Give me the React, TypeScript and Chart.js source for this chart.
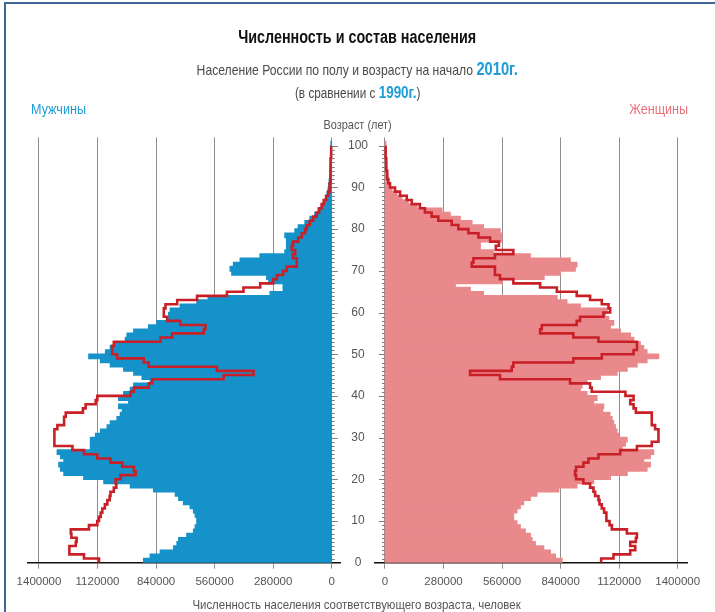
import React, { useEffect, useRef } from "react";
import { Chart, registerables } from "chart.js";

Chart.register(...registerables);

// ---------- data (thousands of people, index = age in years) ----------
const AGES: number[] = Array.from({ length: 101 }, (_, i) => i);
const AGE_LABELS = [0, 10, 20, 30, 40, 50, 60, 70, 80, 90, 100];
const X_TICKS = [0, 280000, 560000, 840000, 1120000, 1400000];

const MALE_2010 = [
  899, 867, 819, 755, 739, 731, 692, 660, 652, 644,
  644, 652, 660, 676, 708, 731, 747, 851, 962, 1089,
  1185, 1280, 1296, 1304, 1280, 1296, 1312, 1153, 1153, 1153,
  1129, 1105, 1073, 1058, 1026, 1010, 1000, 1018, 970, 1018,
  994, 962, 946, 867, 906, 946, 994, 1058, 1105, 1161,
  1081, 1058, 1042, 986, 978, 946, 875, 835, 779, 779,
  771, 724, 644, 590, 294, 231, 231, 300, 310, 477,
  485, 469, 437, 342, 223, 215, 215, 215, 223, 175,
  159, 127, 103, 80, 64, 48, 37, 27, 21, 16,
  13, 11, 9, 7, 6, 5, 4, 3, 3, 2, 2,
];

const MALE_1990 = [
  1113, 1185, 1252, 1256, 1224, 1220, 1245, 1248, 1161, 1121,
  1113, 1105, 1097, 1085, 1073, 1062, 1058, 1042, 1030, 1034,
  1010, 938, 946, 1002, 1058, 1121, 1185, 1240, 1324, 1328,
  1328, 1324, 1312, 1280, 1280, 1272, 1190, 1177, 1129, 1121,
  962, 946, 875, 859, 517, 374, 549, 875, 899, 1026,
  1050, 1050, 1042, 819, 763, 612, 604, 724, 787, 803,
  803, 795, 739, 644, 501, 422, 342, 280, 262, 232,
  215, 167, 167, 185, 175, 191, 185, 160, 143, 127,
  119, 105, 88, 72, 60, 48, 38, 27, 17, 12,
  9, 8, 7, 6, 5, 4, 4, 3, 3, 2, 2,
];

const FEMALE_2010 = [
  846, 814, 790, 758, 718, 702, 694, 670, 646, 630,
  614, 614, 630, 646, 662, 694, 726, 830, 917, 997,
  1077, 1157, 1252, 1268, 1236, 1268, 1284, 1133, 1149, 1157,
  1117, 1109, 1101, 1093, 1085, 1075, 1040, 1045, 997, 1013,
  965, 933, 941, 965, 1029, 1109, 1157, 1205, 1252, 1308,
  1252, 1236, 1220, 1189, 1173, 1125, 1077, 1093, 1069, 1053,
  1061, 933, 869, 822, 470, 407, 335, 560, 760, 838,
  909, 917, 885, 694, 517, 455, 455, 558, 558, 550,
  470, 415, 359, 311, 271, 152, 110, 80, 56, 32,
  20, 16, 13, 11, 9, 7, 6, 5, 4, 3, 3,
];

const FEMALE_1990 = [
  1034, 1093, 1173, 1197, 1173, 1200, 1205, 1157, 1085, 1074,
  1061, 1058, 1048, 1037, 1026, 1021, 1005, 997, 981, 949,
  914, 909, 914, 949, 973, 1021, 1125, 1205, 1276, 1308,
  1308, 1308, 1292, 1276, 1276, 1276, 1200, 1189, 1173, 1189,
  1150, 989, 981, 885, 550, 407, 606, 614, 901, 1037,
  1189, 1205, 1205, 1021, 901, 742, 750, 917, 933, 1045,
  1077, 1069, 1037, 981, 917, 822, 742, 614, 550, 526,
  526, 415, 423, 526, 614, 530, 545, 503, 447, 399,
  351, 319, 255, 223, 191, 167, 128, 104, 72, 48,
  24, 16, 12, 10, 8, 6, 5, 4, 3, 3, 2,
];

// ---------- styling ----------
const BLUE = "#1492c9";
const PINK = "#e9898c";
const RED = "#c91f27";
const BLUE_TXT = "#1d9bd6";
const PINK_TXT = "#e8707a";
const GRAY_TXT = "#555555";
const FONT = '"Liberation Sans", Arial, Helvetica, sans-serif';

const W = 715;
const H = 612;
const PLOT_TOP = 137.4;
const PLOT_BOTTOM = 562.7;

type Side = "left" | "right";

function agePlugin(side: Side) {
  return {
    id: "ageAxis" + side,
    afterDraw(chart: any) {
      const { ctx, scales } = chart;
      const xs = scales.x;
      const ys = scales.y;
      const x0 = xs.getPixelForValue(0);
      ctx.save();
      ctx.strokeStyle = "#7d7d7d";
      ctx.lineWidth = 1;
      for (const a of AGES) {
        const py = Math.round(ys.getPixelForValue(a)) + 0.5;
        const len = a % 10 === 0 ? 6 : 3;
        ctx.beginPath();
        ctx.moveTo(x0, py);
        ctx.lineTo(side === "left" ? x0 + len : x0 - len, py);
        ctx.stroke();
      }
      if (side === "left") {
        ctx.fillStyle = GRAY_TXT;
        ctx.font = "12px " + FONT;
        ctx.textAlign = "center";
        ctx.textBaseline = "middle";
        for (const a of AGE_LABELS) {
          ctx.fillText(String(a), 358, ys.getPixelForValue(a));
        }
      }
      ctx.restore();
    },
  };
}

function buildConfig(side: Side, bars: number[], line: number[], color: string): any {
  const isLeft = side === "left";
  const barData = AGES.map((a) => ({ x: bars[a] * 1000, y: a + 0.5 }));
  const lineData: { x: number; y: number }[] = [];
  AGES.forEach((a) => {
    lineData.push({ x: line[a] * 1000, y: a });
    if (a < 100) lineData.push({ x: line[a] * 1000, y: a + 1 });
  });
  return {
    type: "bar",
    data: {
      datasets: [
        {
          type: "line",
          data: lineData,
          borderColor: RED,
          borderWidth: 2.6,
          pointRadius: 0,
          pointHoverRadius: 0,
          fill: false,
          tension: 0,
          order: 0,
          indexAxis: "y",
        },
        {
          type: "bar",
          data: barData,
          backgroundColor: color,
          borderWidth: 0,
          inflateAmount: 0.8,
          barPercentage: 1,
          categoryPercentage: 1,
          order: 1,
          indexAxis: "y",
        },
      ],
    },
    options: {
      responsive: false,
      animation: false,
      devicePixelRatio: 1,
      indexAxis: "y",
      events: [],
      layout: {
        padding: {
          left: isLeft ? 28 : 375,
          right: isLeft ? 375 : 28,
          top: PLOT_TOP,
          bottom: 0,
        },
      },
      plugins: {
        legend: { display: false },
        tooltip: { enabled: false },
        title: { display: false },
      },
      scales: {
        y: {
          type: "linear",
          min: 0,
          max: 102,
          offset: false,
          display: false,
          grid: { offset: false },
          afterBuildTicks: (s: any) => {
            s.ticks = AGE_LABELS.map((v) => ({ value: v }));
          },
        },
        x: {
          type: "linear",
          reverse: isLeft,
          offset: false,
          min: isLeft ? -39700 : -47800,
          max: isLeft ? 1452600 : 1444500,
          afterBuildTicks: (s: any) => {
            s.ticks = X_TICKS.map((v) => ({ value: v }));
          },
          afterFit: (s: any) => {
            s.height = H - PLOT_BOTTOM;
          },
          grid: {
            color: "#8e8e8e",
            lineWidth: 1,
            tickLength: 6,
            drawOnChartArea: true,
            offset: false,
          },
          border: { display: true, color: "#111111", width: 1.6 },
          ticks: {
            color: GRAY_TXT,
            font: { family: FONT, size: 11.5 },
            padding: 6,
            maxRotation: 0,
            autoSkip: false,
            callback: (v: any) => String(v),
          },
        },
      },
    },
    plugins: [agePlugin(side)],
  };
}

const line = (top: number, size: number): React.CSSProperties => ({
  position: "absolute",
  left: 0,
  top: top - size / 2,
  width: W,
  textAlign: "center",
  fontFamily: FONT,
  fontSize: size,
  lineHeight: 1,
  whiteSpace: "nowrap",
});

const squeeze = (k: number, origin = "center"): React.CSSProperties => ({
  display: "inline-block",
  transform: `scaleX(${k})`,
  transformOrigin: origin,
});

export default function App() {
  const leftRef = useRef<HTMLCanvasElement>(null);
  const rightRef = useRef<HTMLCanvasElement>(null);

  useEffect(() => {
    const charts: Chart[] = [];
    if (leftRef.current) {
      charts.push(new Chart(leftRef.current, buildConfig("left", MALE_2010, MALE_1990, BLUE)));
    }
    if (rightRef.current) {
      charts.push(new Chart(rightRef.current, buildConfig("right", FEMALE_2010, FEMALE_1990, PINK)));
    }
    return () => charts.forEach((c) => c.destroy());
  }, []);

  const canvasStyle: React.CSSProperties = {
    position: "absolute",
    left: 0,
    top: 0,
    width: W,
    height: H,
    display: "block",
  };

  return (
    <div
      style={{
        position: "absolute",
        left: 0,
        top: 0,
        width: W,
        height: H,
        background: "#ffffff",
        overflow: "hidden",
      }}
    >
      <canvas ref={leftRef} width={W} height={H} style={canvasStyle} />
      <canvas ref={rightRef} width={W} height={H} style={canvasStyle} />

      {/* frame */}
      <div style={{ position: "absolute", left: 4, top: 2, width: W, height: 2, background: "#3f6796" }} />
      <div style={{ position: "absolute", left: 4, top: 2, width: 2, height: H, background: "#3f6796" }} />

      <div style={{ ...line(38, 17.5), fontWeight: "bold", color: "#111" }}>
        <span style={squeeze(0.82)}>Численность и состав населения</span>
      </div>
      <div style={{ ...line(68, 14.5), color: "#4a4a4a" }}>
        <span style={squeeze(0.84)}>
          Население России по полу и возрасту на начало{" "}
          <b style={{ color: BLUE_TXT, fontSize: 17.5 }}>2010г.</b>
        </span>
      </div>
      <div style={{ ...line(92, 14), color: "#4a4a4a" }}>
        <span style={squeeze(0.84)}>
          (в сравнении с <b style={{ color: BLUE_TXT, fontSize: 16 }}>1990г.</b>)
        </span>
      </div>
      <div
        style={{
          position: "absolute",
          left: 31,
          top: 108 - 7.5,
          fontFamily: FONT,
          fontSize: 15,
          lineHeight: 1,
          color: BLUE_TXT,
          whiteSpace: "nowrap",
        }}
      >
        <span style={squeeze(0.84, "left")}>Мужчины</span>
      </div>
      <div
        style={{
          position: "absolute",
          right: W - 688,
          top: 108 - 7.5,
          fontFamily: FONT,
          fontSize: 15,
          lineHeight: 1,
          color: PINK_TXT,
          whiteSpace: "nowrap",
          textAlign: "right",
        }}
      >
        <span style={squeeze(0.84, "right")}>Женщины</span>
      </div>
      <div style={{ ...line(124, 13), color: GRAY_TXT }}>
        <span style={squeeze(0.84)}>Возраст (лет)</span>
      </div>
      <div style={{ ...line(604, 13), color: GRAY_TXT, left: -1 }}>
        <span style={squeeze(0.88)}>Численность населения соответствующего возраста, человек</span>
      </div>
    </div>
  );
}
